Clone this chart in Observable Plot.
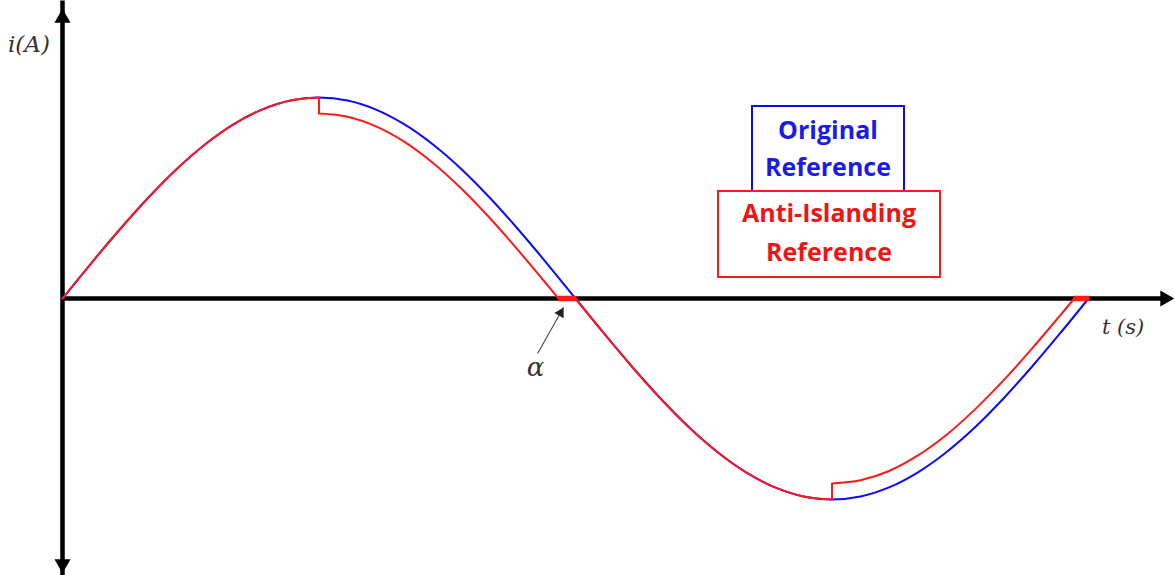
<!DOCTYPE html>
<html>
<head>
<meta charset="utf-8">
<script src="https://cdn.jsdelivr.net/npm/d3@7"></script>
<script src="https://cdn.jsdelivr.net/npm/@observablehq/plot@0.6"></script>
<style>
  body { margin: 0; background: #fff; }
  #wrap { position: relative; width: 1175px; height: 575px; }
  .axis-label { position: absolute; font-family: "DejaVu Serif", serif; font-style: italic; color: #333; white-space: nowrap; line-height: 1; }
  .box { position: absolute; box-sizing: border-box; font-family: "Open Sans", sans-serif; font-weight: 700; font-size: 25px; text-align: center; background: #fff; white-space: nowrap; }
</style>
</head>
<body>
<div id="wrap"></div>
<script>
// Phase angle (degrees) over one period of the original reference current
const phase = [0, 10, 20, 30, 40, 50, 60, 70, 80, 90, 100, 110, 120, 130, 140, 150, 160, 170, 180,
               190, 200, 210, 220, 230, 240, 250, 260, 270, 280, 290, 300, 310, 320, 330, 340, 350, 360];
// Original reference current (per unit)
const original = [0, 0.174, 0.342, 0.5, 0.643, 0.766, 0.866, 0.94, 0.985, 1, 0.985, 0.94, 0.866, 0.766, 0.643, 0.5, 0.342, 0.174, 0,
                  -0.174, -0.342, -0.5, -0.643, -0.766, -0.866, -0.94, -0.985, -1, -0.985, -0.94, -0.866, -0.766, -0.643, -0.5, -0.342, -0.174, 0];

// Anti-islanding reference: four pieces, each with its own phase and current values
const aiSegment = ["rise", "fall", "dip", "return"];
const aiPhase = [
  [0, 10, 20, 30, 40, 50, 60, 70, 80, 90],
  [90, 100, 110, 120, 130, 140, 150, 160, 170, 174],
  [180, 190, 200, 210, 220, 230, 240, 250, 260, 270],
  [270, 280, 290, 300, 310, 320, 330, 340, 350, 355]
];
const aiCurrent = [
  [0, 0.174, 0.342, 0.5, 0.643, 0.766, 0.866, 0.94, 0.985, 1],
  [0.92, 0.904, 0.856, 0.779, 0.674, 0.546, 0.399, 0.238, 0.069, 0],
  [0, -0.174, -0.342, -0.5, -0.643, -0.766, -0.866, -0.94, -0.985, -1],
  [-0.92, -0.904, -0.858, -0.782, -0.68, -0.554, -0.41, -0.252, -0.085, 0]
];
// Steps where the anti-islanding reference jumps away from the original
const stepPhase = [90, 270];
const stepFrom = [1, -1];
const stepTo = [0.92, -0.92];
// Dead zones (current held at zero) at the end of each half cycle
const zeroStart = [174, 355];
const zeroEnd = [180.5, 360.5];

// Extent of the drawn axes
const phaseAxisEnd = 390;
const currentAxisTop = 1.44;
const currentAxisBottom = -1.365;

// Pointer to the dead zone, labelled alpha
const alphaTail = {t: 166.7, i: -0.274};
const alphaTip = {t: 175.8, i: -0.045};

// Build tables for the marks
const originalData = phase.map((t, k) => ({t, i: original[k]}));
const aiData = aiSegment.flatMap((seg, s) => aiPhase[s].map((t, k) => ({seg, t, i: aiCurrent[s][k]})));
const stepData = stepPhase.map((t, k) => ({t, from: stepFrom[k], to: stepTo[k]}));
const zeroData = zeroStart.map((t1, k) => ({t1, t2: zeroEnd[k]}));

const BLUE = "#0a0aff";
const RED = "#ff1a1a";

const chart = Plot.plot({
  width: 1175,
  height: 575,
  margin: 0,
  style: {background: "transparent"},
  x: {domain: [0, 360], range: [62, 1088], axis: null},
  y: {domain: [-1, 1], range: [499, 97], axis: null},
  marks: [
    // axes with filled arrowheads
    Plot.ruleY([0], {x1: 0, x2: phaseAxisEnd, stroke: "black", strokeWidth: 4.5, insetRight: 8}),
    Plot.ruleX([0], {y1: currentAxisBottom, y2: currentAxisTop, stroke: "black", strokeWidth: 4.5, insetTop: 8, insetBottom: 8}),
    Plot.dot([phaseAxisEnd], {x: d => d, y: 0, symbol: "triangle", rotate: 90, r: 6, fill: "black", dx: -9}),
    Plot.dot([currentAxisTop], {x: 0, y: d => d, symbol: "triangle", r: 6, fill: "black", dy: 9}),
    Plot.dot([currentAxisBottom], {x: 0, y: d => d, symbol: "triangle", rotate: 180, r: 6, fill: "black", dy: -9}),
    // original reference
    Plot.line(originalData, {x: "t", y: "i", stroke: BLUE, strokeWidth: 2, curve: "catmull-rom"}),
    // anti-islanding reference
    Plot.line(aiData, {x: "t", y: "i", z: "seg", stroke: RED, strokeWidth: 2, curve: "catmull-rom"}),
    Plot.ruleX(stepData, {x: "t", y1: "from", y2: "to", stroke: RED, strokeWidth: 2}),
    Plot.ruleY(zeroData, {x1: "t1", x2: "t2", y: 0, stroke: RED, strokeWidth: 5.5}),
    // alpha pointer: thin shaft and a small filled head
    Plot.link([alphaTail], {x1: "t", y1: "i", x2: () => alphaTip.t, y2: () => alphaTip.i, stroke: "#444", strokeWidth: 1.1}),
    Plot.dot([alphaTip], {x: "t", y: "i", symbol: "triangle", rotate: 29.5, r: 4, fill: "#222", dx: -3, dy: 5.4}),
    Plot.text([alphaTail], {x: "t", y: "i", text: () => "α", dy: 14, dx: -2, fontSize: 26, fontStyle: "italic", fontFamily: "DejaVu Serif", fill: "#333"})
  ]
});

const wrap = document.getElementById("wrap");
wrap.appendChild(chart);
chart.style.position = "absolute";
chart.style.left = "0px";
chart.style.top = "0px";

function addDiv(cls, html, css) {
  const d = document.createElement("div");
  d.className = cls;
  d.innerHTML = html;
  Object.assign(d.style, css);
  wrap.appendChild(d);
  return d;
}

// axis names
addDiv("axis-label", "i(A)", {left: "8px", top: "33px", fontSize: "23px"});
addDiv("axis-label", "t (s)", {left: "1102px", top: "317px", fontSize: "21px"});

// series boxes
addDiv("box", "Original<br>Reference", {
  left: "751px", top: "105px", width: "154px", height: "88px",
  border: "2.5px solid " + BLUE, borderBottom: "none",
  color: "#1b1be8", lineHeight: "37px", paddingTop: "4px"
});
addDiv("box", "Anti-Islanding<br>Reference", {
  left: "717px", top: "190px", width: "224px", height: "88px",
  border: "2.5px solid " + RED,
  color: "#f01414", lineHeight: "39px", paddingTop: "1px"
});
</script>
</body>
</html>
